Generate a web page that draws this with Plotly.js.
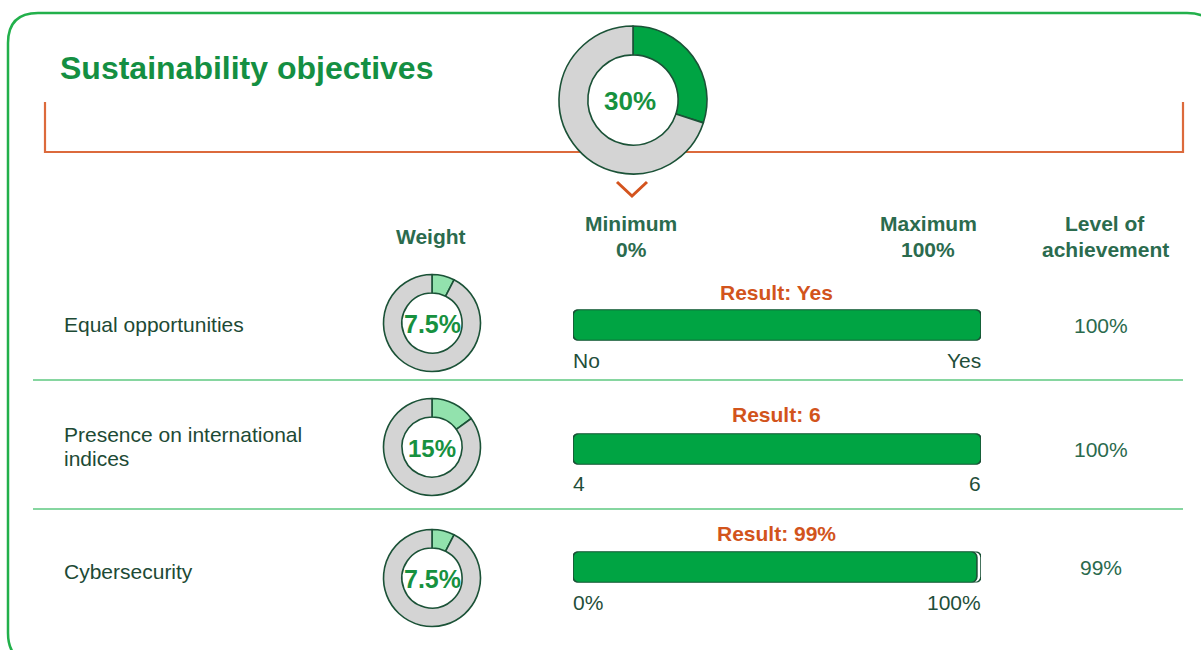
<!DOCTYPE html>
<html>
<head>
<meta charset="utf-8">
<script src="https://cdn.plot.ly/plotly-3.0.1.min.js"></script>
<style>html,body{margin:0;padding:0;background:#fff;}#chart{width:1201px;height:650px;}</style>
</head>
<body>
<div id="chart"></div>
<script>
// ---------- data ----------
const chartTitle = 'Sustainability objectives';
const totalWeight = 30;
const totalWeightLabel = '30%';
const rowLabels = [['Equal opportunities'], ['Presence on international', 'indices'], ['Cybersecurity']];
const weights = [7.5, 15, 7.5];
const weightLabels = ['7.5%', '15%', '7.5%'];
const scaleMin = [0, 4, 0];
const scaleMax = [1, 6, 100];
const minLabels = ['No', '4', '0%'];
const maxLabels = ['Yes', '6', '100%'];
const results = [1, 6, 99];
const resultLabels = ['Result: Yes', 'Result: 6', 'Result: 99%'];
const achievement = ['100%', '100%', '99%'];
const headerWeight = 'Weight';
const headerMin = ['Minimum', '0%'];
const headerMax = ['Maximum', '100%'];
const headerLevel = ['Level of', 'achievement'];

// ---------- geometry / style ----------
const W = 1201, H = 650;
const X = px => px / W;
const Y = py => 1 - py / H;
const FONT = 'Liberation Sans, Arial, Helvetica, sans-serif';
const GREEN = '#00a443', LIGHTGREEN = '#92e2ad', GREY = '#d4d4d4', DARK = '#1b5237';
const barX0 = 573, barX1 = 981, barH = 31;
const barCY = [325, 449, 567];
const donutCY = [323, 447, 578];
const donutCX = 432, donutR = 48.5;
const labelY = [[324], [434, 458], [571]];
const resultY = [292, 414, 533];
const tickY = [360, 483, 602];

const traces = [];
const layout = {
  width: W, height: H,
  margin: {l: 0, r: 0, t: 0, b: 0},
  paper_bgcolor: '#ffffff', plot_bgcolor: 'rgba(0,0,0,0)',
  showlegend: false, barmode: 'overlay',
  annotations: [], shapes: []
};

function ann(text, px, py, size, color, bold, anchor, xshift) {
  layout.annotations.push({xref: 'paper', yref: 'paper', x: X(px), y: Y(py), xanchor: anchor || 'center', yanchor: 'middle',
    xshift: xshift || 0,
    text: bold ? '<b>' + text + '</b>' : text, showarrow: false, font: {family: FONT, size: size, color: color}});
}

// big donut
traces.push({
  type: 'pie', values: [totalWeight, 100 - totalWeight], sort: false, direction: 'clockwise', rotation: 0,
  hole: 0.61, textinfo: 'none', hoverinfo: 'skip',
  marker: {colors: [GREEN, GREY], line: {color: DARK, width: 1.6}},
  domain: {x: [X(633 - 74), X(633 + 74)], y: [Y(100 + 74), Y(100 - 74)]}
});
ann(totalWeightLabel, 630, 101, 26, '#17913f', true);

// title and headers
ann(chartTitle, 60, 68, 32, '#148f42', true, 'left', -2);
const HC = '#2b6b4e';
ann(headerWeight, 431, 237, 21, HC, true);
ann(headerMin[0], 631, 224, 21, HC, true); ann(headerMin[1], 631, 249, 21, HC, true);
ann(headerMax[0], 928, 224, 21, HC, true); ann(headerMax[1], 928, 249, 21, HC, true);
ann(headerLevel[0], 1105, 224, 21, HC, true); ann(headerLevel[1], 1105, 249, 21, HC, true);

// rows
for (let i = 0; i < 3; i++) {
  const n = i + 1;
  const xa = 'xaxis' + (n === 1 ? '' : n), ya = 'yaxis' + (n === 1 ? '' : n);
  const xr = 'x' + (n === 1 ? '' : n), yr = 'y' + (n === 1 ? '' : n);
  layout[xa] = {domain: [X(barX0), X(barX1)], range: [scaleMin[i], scaleMax[i]], visible: false, fixedrange: true, anchor: yr};
  layout[ya] = {domain: [Y(barCY[i] + barH / 2), Y(barCY[i] - barH / 2)], range: [-0.5, 0.5], visible: false, fixedrange: true, anchor: xr};
  const bar = (base, val, color) => ({
    type: 'bar', orientation: 'h', y: [0], x: [val], base: [base], width: [1], xaxis: xr, yaxis: yr,
    marker: {color: color, line: {color: DARK, width: 1.6}, cornerradius: 6}, hoverinfo: 'skip'
  });
  // track (white) and result bar (green)
  traces.push(bar(scaleMin[i], scaleMax[i] - scaleMin[i], '#ffffff'));
  traces.push(bar(scaleMin[i], results[i] - scaleMin[i], GREEN));

  // weight donut
  traces.push({
    type: 'pie', values: [weights[i], 100 - weights[i]], sort: false, direction: 'clockwise', rotation: 0,
    hole: 0.62, textinfo: 'none', hoverinfo: 'skip',
    marker: {colors: [LIGHTGREEN, GREY], line: {color: DARK, width: 1.6}},
    domain: {x: [X(donutCX - donutR), X(donutCX + donutR)], y: [Y(donutCY[i] + donutR), Y(donutCY[i] - donutR)]}
  });
  ann(weightLabels[i], donutCX, donutCY[i] + 1, weightLabels[i].length > 3 ? 25 : 24, '#17913f', true);

  // labels
  rowLabels[i].forEach((t, k) => ann(t, 64, labelY[i][k], 21, '#1d4a35', false, 'left', -2));
  ann(resultLabels[i], 776, resultY[i], 21, '#d2541c', true);
  layout.annotations.push({xref: xr, yref: 'paper', x: scaleMin[i], y: Y(tickY[i]), xanchor: 'left', yanchor: 'middle', xshift: -2,
    text: minLabels[i], showarrow: false, font: {family: FONT, size: 21, color: '#1f4e3a'}});
  layout.annotations.push({xref: xr, yref: 'paper', x: scaleMax[i], y: Y(tickY[i]), xanchor: 'right', yanchor: 'middle', xshift: 2,
    text: maxLabels[i], showarrow: false, font: {family: FONT, size: 21, color: '#1f4e3a'}});
  ann(achievement[i], 1101, barCY[i], 21, '#2a6a4d', false);
}

// decorative shapes
const r = 30, L = 8, T = 13, R = 1217, B = 663;
const path = `M ${X(L)},${Y(T + r)} Q ${X(L)},${Y(T)} ${X(L + r)},${Y(T)} L ${X(R - r)},${Y(T)} Q ${X(R)},${Y(T)} ${X(R)},${Y(T + r)} ` +
  `L ${X(R)},${Y(B - r)} Q ${X(R)},${Y(B)} ${X(R - r)},${Y(B)} L ${X(L + r)},${Y(B)} Q ${X(L)},${Y(B)} ${X(L)},${Y(B - r)} Z`;
layout.shapes.push({type: 'path', xref: 'paper', yref: 'paper', path: path, line: {color: '#22b04b', width: 2.5}, layer: 'below'});
layout.shapes.push({type: 'path', xref: 'paper', yref: 'paper', layer: 'below',
  path: `M ${X(45)},${Y(102)} L ${X(45)},${Y(152)} L ${X(1183)},${Y(152)} L ${X(1183)},${Y(102)}`,
  line: {color: '#dc6a3c', width: 2.2}});
layout.shapes.push({type: 'path', xref: 'paper', yref: 'paper', layer: 'below',
  path: `M ${X(617)},${Y(182)} L ${X(632)},${Y(196)} L ${X(647)},${Y(182)}`,
  line: {color: '#d4541e', width: 3}});
[380, 509].forEach(yy => layout.shapes.push({type: 'line', xref: 'paper', yref: 'paper', layer: 'below',
  x0: X(33), x1: X(1183), y0: Y(yy), y1: Y(yy), line: {color: '#86d6a0', width: 2}}));

Plotly.newPlot('chart', traces, layout, {staticPlot: true, displayModeBar: false});
</script>
</body>
</html>
